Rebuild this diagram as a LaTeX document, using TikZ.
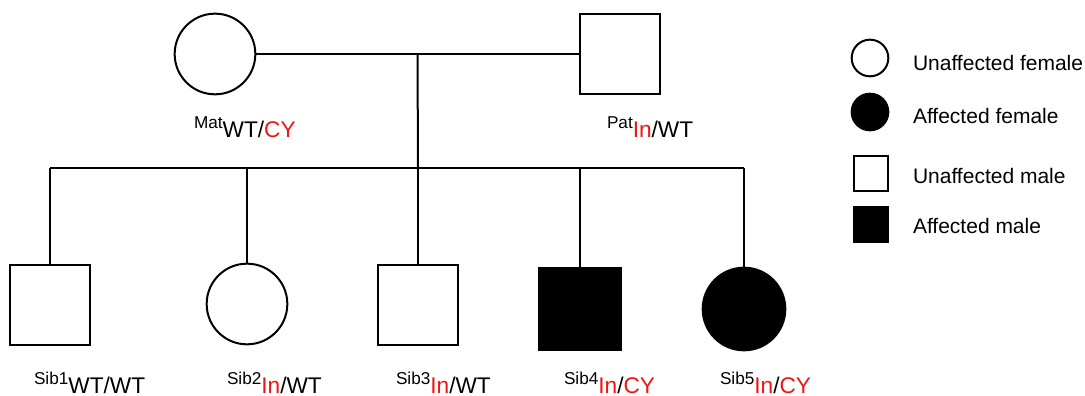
\documentclass[tikz,border=0pt]{standalone}
\usepackage{fontspec}
\setmainfont{Liberation Sans}
\usepackage{xcolor}
\usepackage{tikz}
\usetikzlibrary{positioning,calc}
\definecolor{allelered}{RGB}{240,20,20}
\newcommand{\allele}[1]{\textcolor{allelered}{#1}}
\newcommand{\geno}[2]{{\fontsize{10.3}{12}\selectfont #1}\raisebox{-5.4pt}{\fontsize{13.6}{15}\selectfont #2}}

\begin{document}
\begin{tikzpicture}[x=0.6pt, y=-0.6pt, line width=1.2pt,
    female/.style={draw, circle, inner sep=0pt, minimum size=48.4pt},
    male/.style={draw, rectangle, inner sep=0pt, minimum size=48.4pt},
    affected/.style={fill=black},
    keyfemale/.style={draw, circle, inner sep=0pt, minimum size=22pt},
    keymale/.style={draw, rectangle, inner sep=0pt, minimum width=20pt, minimum height=21pt},
    keytext/.style={anchor=west, inner sep=0pt, font=\fontsize{12.6}{15}\selectfont},
    tag/.style={anchor=base west, inner sep=0pt}]
    \useasboundingbox (0,0) rectangle (1085,396);
    \node[female] (mat) at (215,54) {};
    \node[male] (pat) at (620,54) {};
    \node[male] (sib1) at (50,305) {};
    \node[female] (sib2) at (247,304) {};
    \node[male] (sib3) at (418,305) {};
    \node[male, affected, minimum size=49.6pt] (sib4) at (580,309) {};
    \node[female, affected, minimum size=49.6pt] (sib5) at (744,309) {};
    \coordinate (mate) at ($(mat)!0.5!(pat)$);
    \coordinate (sibship) at (418,168);
    \draw (mat) -- (pat);
    \draw (mate) -- (sibship);
    \draw (sib1.north |- sibship) -- (sib5.north |- sibship);
    \foreach \s in {sib1,sib2,sib3,sib4,sib5}
        \draw (\s.north |- sibship) -- (\s.north);
    \node[tag] (matlabel) at (193,129) {\geno{Mat}{WT/\allele{CY}}};
    \node[tag] (patlabel) at (606,129) {\geno{Pat}{\allele{In}/WT}};
    \node[tag] (sib1label) at (33,384) {\geno{Sib1}{WT/WT}};
    \node[tag] (sib2label) at (226,384) {\geno{Sib2}{\allele{In}/WT}};
    \node[tag] (sib3label) at (395,384) {\geno{Sib3}{\allele{In}/WT}};
    \node[tag] (sib4label) at (563,384) {\geno{Sib4}{\allele{In}/\allele{CY}}};
    \node[tag] (sib5label) at (719,384) {\geno{Sib5}{\allele{In}/\allele{CY}}};
    \node[keyfemale] (key1) at (870,58) {};
    \node[keyfemale, affected] (key2) at (870,112) {};
    \node[keymale] (key3) at (871,174) {};
    \node[keymale, affected] (key4) at (871,225) {};
    \node[keytext] (key1text) at (912,63) {Unaffected female};
    \node[keytext] (key2text) at (912,116) {Affected female};
    \node[keytext] (key3text) at (912,176) {Unaffected male};
    \node[keytext] (key4text) at (912,226) {Affected male};
\end{tikzpicture}
\end{document}
